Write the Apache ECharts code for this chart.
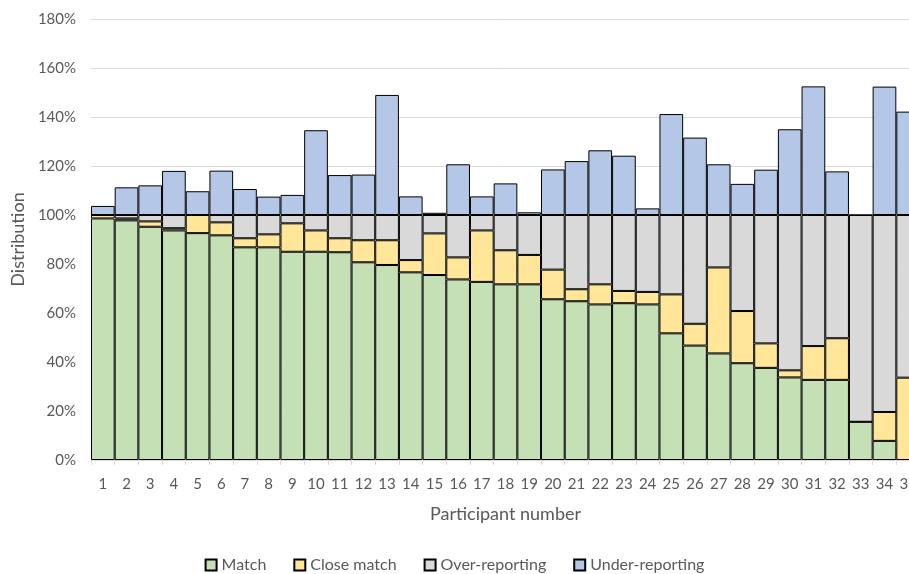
<!DOCTYPE html>
<html>
<head>
<meta charset="utf-8">
<script src="https://cdn.jsdelivr.net/npm/echarts@6/dist/echarts.min.js"></script>
<style>html,body{margin:0;padding:0;background:#fff}#c{width:909px;height:574px}</style>
</head>
<body>
<div id="c"></div>
<script>
const categories = ['1','2','3','4','5','6','7','8','9','10','11','12','13','14','15','16','17','18','19','20','21','22','23','24','25','26','27','28','29','30','31','32','33','34','35'];
const matchVals = [98.6, 97.8, 95.2, 93.7, 92.6, 91.7, 86.8, 86.8, 85.0, 85.0, 84.8, 80.7, 79.6, 76.6, 75.5, 73.7, 72.7, 71.7, 71.7, 65.6, 64.8, 63.5, 64.0, 63.5, 51.7, 46.7, 43.5, 39.5, 37.6, 33.7, 32.7, 32.7, 15.6, 7.8, 0];
const closeVals = [1.4, 0.8, 2.2, 0.9, 7.4, 5.3, 3.7, 5.3, 11.6, 8.7, 5.7, 9.0, 10.1, 5.0, 17.0, 9.0, 21.0, 13.9, 12.0, 12.1, 4.9, 8.2, 5.0, 5.1, 15.9, 8.9, 35.1, 21.3, 10.0, 2.9, 13.8, 17.0, 0, 11.8, 33.6];
const overVals = [0, 1.4, 2.6, 5.4, 0, 3.0, 9.5, 7.9, 3.4, 6.3, 9.5, 10.3, 10.3, 18.4, 7.5, 17.3, 6.3, 14.4, 16.3, 22.3, 30.3, 28.3, 31.0, 31.4, 32.4, 44.4, 21.4, 39.2, 52.4, 63.4, 53.5, 50.3, 84.4, 80.4, 66.4];
const underVals = [3.7, 11.3, 12.1, 18.0, 9.7, 18.1, 10.6, 7.5, 8.2, 34.6, 16.3, 16.5, 49.0, 7.6, 0.9, 20.7, 7.6, 12.9, 1.1, 18.6, 22.0, 26.4, 24.2, 2.7, 41.2, 31.6, 20.7, 12.7, 18.5, 35.0, 52.5, 17.8, 0, 52.4, 42.2];
const seriesNames = ['Match', 'Close match', 'Over-reporting', 'Under-reporting'];
const colors = ['#C5E0B4', '#FFE699', '#D9D9D9', '#B4C7E7'];

const font = "Lato, 'Open Sans', sans-serif";
const chart = echarts.init(document.getElementById('c'), null, {renderer: 'canvas'});
const mk = (name, data, color) => ({
  name, type: 'bar', stack: 'total', data,
  barCategoryGap: 0, barGap: 0,
  itemStyle: {color, borderColor: '#000', borderWidth: 1},
  emphasis: {disabled: true}
});
chart.setOption({
  animation: false,
  textStyle: {fontFamily: font},
  grid: {left: 91, right: -11, top: 19, bottom: 114, outerBoundsMode: 'none'},
  legend: {
    data: seriesNames, top: 552, left: 'center', itemWidth: 11, itemHeight: 11, itemGap: 27,
    icon: 'rect',
    textStyle: {color: '#595959', fontSize: 16, fontFamily: font}
  },
  xAxis: {
    type: 'category', data: categories,
    name: 'Participant number', nameLocation: 'middle', nameGap: 45,
    nameTextStyle: {color: '#595959', fontSize: 18, fontFamily: font},
    axisLine: {lineStyle: {color: '#D9D9D9'}},
    axisTick: {show: true, length: 5, lineStyle: {color: '#D9D9D9'}},
    axisLabel: {color: '#595959', fontSize: 15, margin: 17, interval: 0, fontFamily: font},
    z: 5
  },
  yAxis: {
    type: 'value', min: 0, max: 180, interval: 20,
    name: 'Distribution', nameLocation: 'middle', nameGap: 64,
    nameTextStyle: {color: '#595959', fontSize: 18, fontFamily: font},
    axisLine: {show: false}, axisTick: {show: false},
    axisLabel: {color: '#595959', fontSize: 15, margin: 15, formatter: '{value}%', fontFamily: font},
    splitLine: {lineStyle: {color: '#D9D9D9'}}
  },
  series: [
    mk(seriesNames[0], matchVals, colors[0]),
    mk(seriesNames[1], closeVals, colors[1]),
    mk(seriesNames[2], overVals, colors[2]),
    mk(seriesNames[3], underVals, colors[3])
  ]
});
</script>
</body>
</html>
